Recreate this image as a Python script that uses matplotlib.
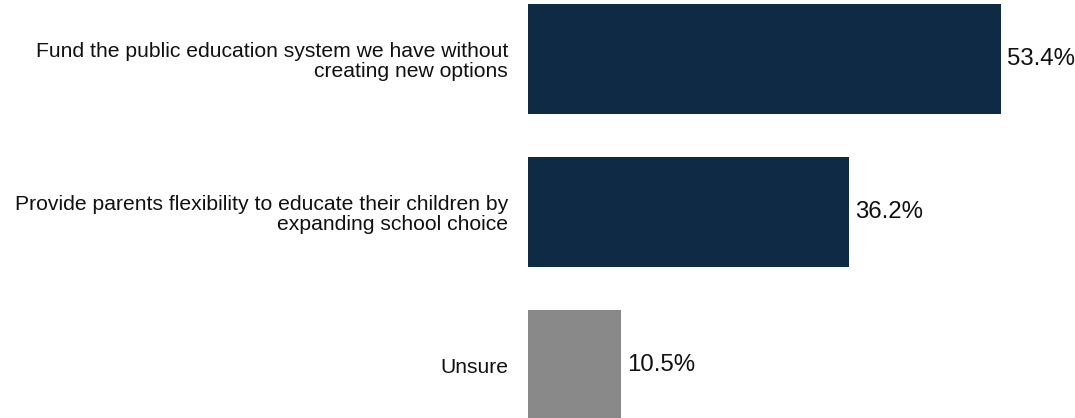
import matplotlib
matplotlib.use("Agg")
import matplotlib.pyplot as plt

plt.rcParams['font.family'] = ['Liberation Sans', 'DejaVu Sans']

categories = [
    "Fund the public education system we have without\ncreating new options",
    "Provide parents flexibility to educate their children by\nexpanding school choice",
    "Unsure",
]
values = [53.4, 36.2, 10.5]
colors = ["#0F2A45", "#0F2A45", "#898989"]

fig = plt.figure(figsize=(10.75, 4.18), dpi=100)
ax = fig.add_axes([528/1075, 0, 1 - 528/1075, 1])
ypos = list(range(len(categories)))
ax.barh(ypos, values, height=0.72, color=colors)
ax.set_xlim(0, 61.76)
ax.set_ylim(2.346, -0.386)
ax.set_yticks(ypos)
ax.set_yticklabels(categories, fontsize=15.2, color="#111111", linespacing=1.07)
ax.tick_params(axis='y', length=0, pad=14.4)
ax.set_xticks([])
for s in ax.spines.values():
    s.set_visible(False)
for y, v in zip(ypos, values):
    ax.text(v + 0.7, y, f"{v:.1f}%", va='center', ha='left', fontsize=17.3, color="#111111")

fig.savefig("out.png", dpi=100)
